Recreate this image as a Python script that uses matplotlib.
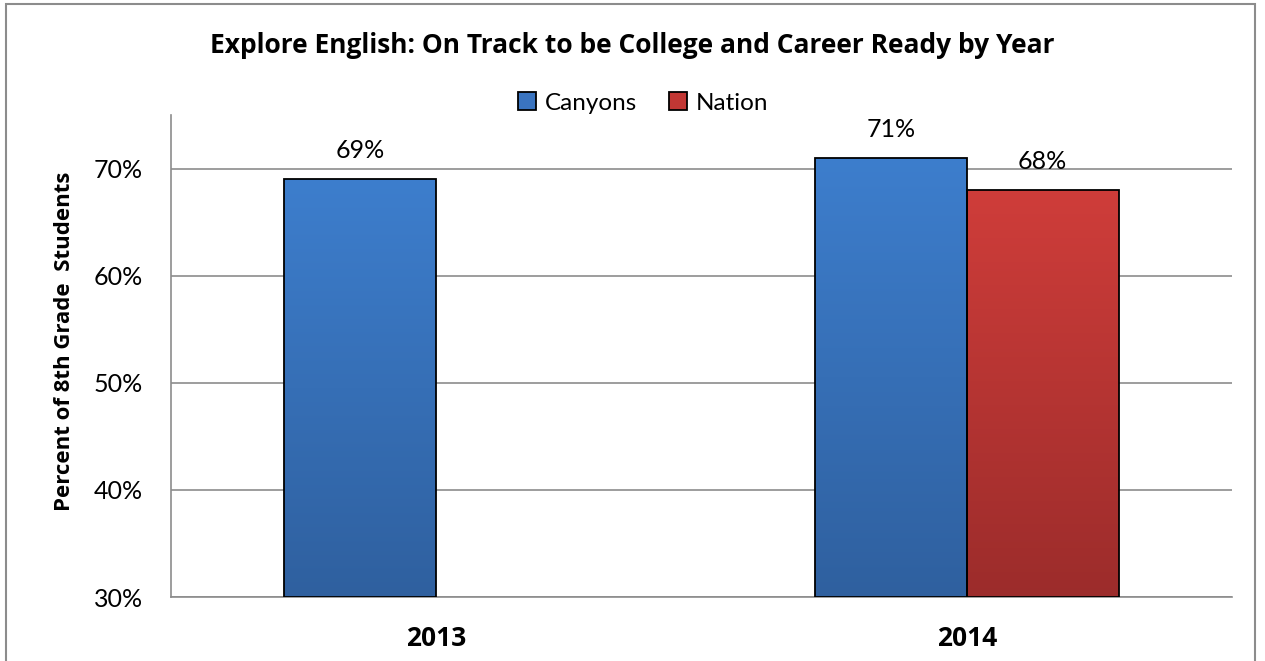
import numpy as np
import matplotlib
matplotlib.use('Agg')
import matplotlib.pyplot as plt
from matplotlib.colors import LinearSegmentedColormap
from matplotlib.patches import Rectangle, Patch

years = ['2013', '2014']
canyons = [69, 71]
nation = [np.nan, 68]
series = ['Canyons', 'Nation']
yticks = [30, 40, 50, 60, 70]

plt.rcParams['font.family'] = ['Lato', 'DejaVu Sans']
BOLD = ['Open Sans', 'DejaVu Sans']

fig = plt.figure(figsize=(12.65, 6.61), dpi=100)
# outer chart frame
fig.patches.append(Rectangle((6/1265, -0.01), 1249/1265, 1 - 4/661 + 0.01,
                             transform=fig.transFigure, fill=False,
                             edgecolor='#8c8c8c', linewidth=1.5))

ax = fig.add_axes([171/1265, 1 - 597/661, (1232-171)/1265, (597-115)/661])

x = np.arange(len(years))
w = 0.2865
grads = {
    'Canyons': LinearSegmentedColormap.from_list('b', ['#2f609f', '#3d7ecd']),
    'Nation': LinearSegmentedColormap.from_list('r', ['#9c2c2b', '#cf3d3a']),
}
solid = {'Canyons': '#3a74c0', 'Nation': '#c23734'}

for vals, off, name in [(canyons, -w/2, 'Canyons'), (nation, w/2, 'Nation')]:
    bars = ax.bar(x + off, vals, w, bottom=0, color='none',
                  edgecolor='none', zorder=3, label=name)
    for b, v in zip(bars, vals):
        if np.isnan(v):
            continue
        x0, wd, h = b.get_x(), b.get_width(), b.get_height()
        grad = np.linspace(0, 1, 256).reshape(-1, 1)
        im = ax.imshow(grad, cmap=grads[name], origin='lower', aspect='auto',
                       extent=[x0, x0 + wd, 30, h], zorder=3.5)
        im.set_clip_path(b)
        ax.add_patch(Rectangle((x0, 30), wd, h - 30, fill=False,
                               edgecolor='black', linewidth=1.3, zorder=4))
        ax.text(x0 + wd/2, v + 1.6, f'{v:.0f}%', ha='center', va='bottom',
                fontsize=18, zorder=5)

ax.set_xlim(-0.5, 1.5)
ax.set_ylim(30, 75)
ax.set_yticks(yticks)
ax.set_yticklabels([f'{t}%' for t in yticks], fontsize=18)
ax.set_xticks(x)
ax.set_xticklabels(years, fontsize=19, fontweight='bold', family=BOLD)
ax.tick_params(length=0)
ax.tick_params(axis='x', pad=20)
ax.tick_params(axis='y', pad=20)
ax.grid(axis='y', color='#8c8c8c', linewidth=1.2, zorder=0)
for s in ['top', 'right']:
    ax.spines[s].set_visible(False)
for s in ['left', 'bottom']:
    ax.spines[s].set_color('#8c8c8c')
    ax.spines[s].set_linewidth(1.2)

fig.text(65/1265, 1 - 341/661, 'Percent of 8th Grade  Students', rotation=90,
         ha='center', va='center', fontsize=16, fontweight='bold', family=BOLD)

fig.text(632/1265, 1 - 53/661, 'Explore English: On Track to be College and Career Ready by Year',
         ha='center', va='baseline', fontsize=19, fontweight='bold', family=BOLD)

handles = [Patch(facecolor=solid[s], edgecolor='black', linewidth=1.3) for s in series]
fig.legend(handles, series, loc='center', bbox_to_anchor=(643/1265, 1 - 103/661),
           ncol=2, frameon=False, fontsize=17.5, handlelength=0.75, handleheight=0.75,
           handletextpad=0.35, columnspacing=1.3)

fig.savefig('out.png', dpi=100)
